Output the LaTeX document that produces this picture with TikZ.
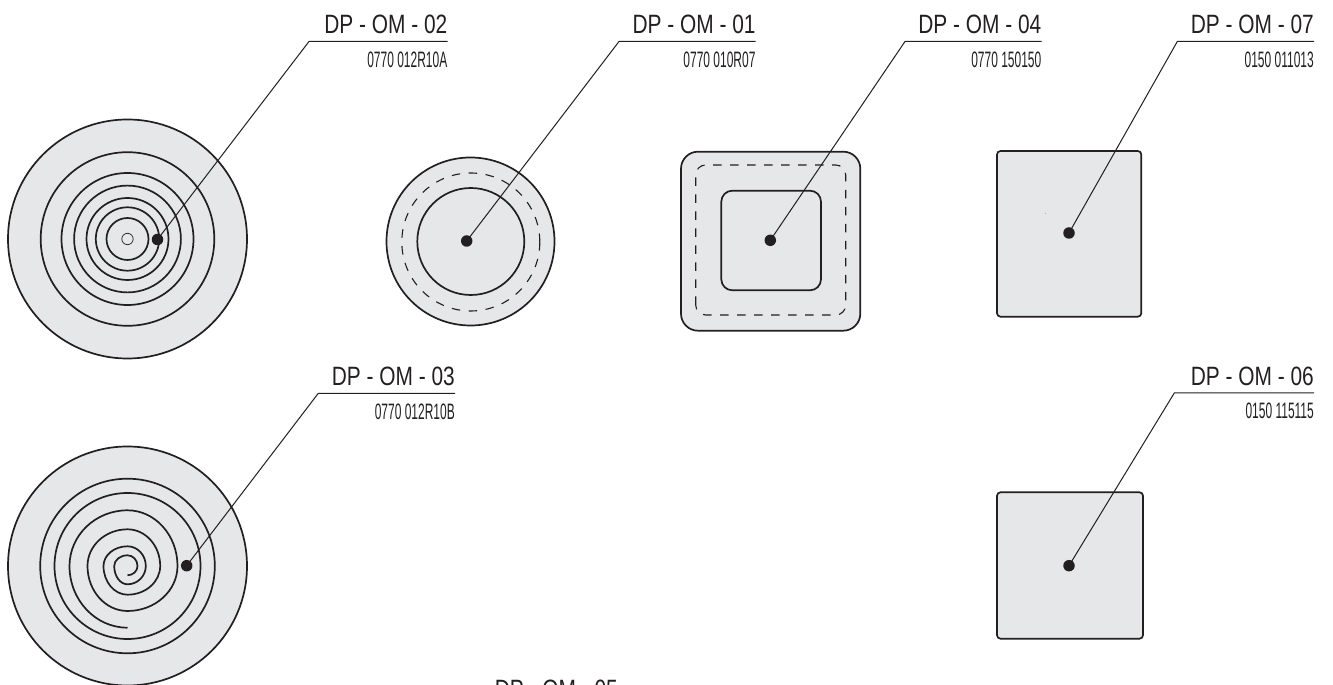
\documentclass[tikz,border=0pt]{standalone}
\usepackage{fontspec}
\newfontfamily\titlefont[FakeStretch=0.788]{Liberation Sans}
\newfontfamily\codefont[FakeStretch=0.538]{Liberation Sans}
\definecolor{padgray}{HTML}{E6E7E8}
\definecolor{ink}{HTML}{231F20}

\begin{document}
\begin{tikzpicture}[x=1pt,y=1pt,
    pad/.style={draw=ink,fill=padgray,line width=1.7pt},
    ring/.style={draw=ink,line width=1.7pt},
    cut/.style={draw=ink,line width=1.1pt,dash pattern=on 8.5pt off 8.5pt},
    dot/.style={circle,fill=ink,inner sep=0pt,minimum size=11.5pt},
    leader/.style={draw=ink,line width=1pt},
    titletext/.style={anchor=base east,inner sep=0pt,text=ink,font=\titlefont\fontsize{26.5}{30}\selectfont},
    codetext/.style={anchor=base east,inner sep=0pt,text=ink,font=\codefont\fontsize{22.3}{26}\selectfont}]
    \useasboundingbox (0,0) rectangle (1333,685);
    \clip (0,0) rectangle (1333,685);

    \draw[pad] (127.5,446) circle[radius=119.5];
    \foreach \r in {21,31.7,41,53.4,66,86.8}
        \draw[ring] (127.5,446) circle[radius=\r];
    \draw[draw=ink,line width=0.7pt] (127.5,446) circle[radius=5.7];

    \draw[pad] (470.5,443.5) circle[radius=84];
    \draw[ring] (470.8,443.5) circle[radius=53.5];
    \draw[cut] (470.8,443) circle[radius=69];

    \draw[pad,rounded corners=17pt] (681,354.3) rectangle (860.3,533.3);
    \draw[cut,rounded corners=10pt] (695.7,370) rectangle (845.7,520);
    \draw[ring,rounded corners=11pt] (721.3,394.7) rectangle (821,494.3);

    \draw[pad,rounded corners=3.5pt] (997,368.3) rectangle (1141.3,534);
    \fill[ink!50] (1045.3,471.7) circle[radius=0.5];

    \draw[pad] (127.5,119) circle[radius=119.5];
    \draw[ring] (127.5,119) circle[radius=87.3];
    \draw[ring] (127.5,119) circle[radius=73];
    \draw[ring] (127.5,109.7)
        \foreach \a/\rx/\ry in {-90/10/9.3,0/10/10.7,90/13.3/10.7,180/13.3/18.3,
            -90/18.3/18.3,0/18.3/19.7,90/24/19.7,180/24/28.7,
            -90/32.7/28.7,0/32.7/36.7,90/40/36.7,180/40/45,
            -90/50/45,0/50/55.7,90/58/55.7,180/58/61.7}
        { arc[start angle=\a,delta angle=90,x radius=\rx,y radius=\ry] };

    \draw[pad,rounded corners=3.5pt] (997,46.3) rectangle (1143,192.7);

    \node[dot] (dot02) at (157.5,445.5) {};
    \node[dot] (dot01) at (466.7,444) {};
    \node[dot] (dot04) at (770.3,444.7) {};
    \node[dot] (dot07) at (1069,452) {};
    \node[dot] (dot03) at (186.7,119.3) {};
    \node[dot] (dot06) at (1069,119.3) {};

    \coordinate (knee02) at (309,643.5);
    \coordinate (end02) at (447.5,643.5);
    \coordinate (knee01) at (619,643.5);
    \coordinate (end01) at (755.7,643.5);
    \coordinate (knee04) at (905,643.5);
    \coordinate (end04) at (1041.5,643.5);
    \coordinate (knee07) at (1177.3,643.5);
    \coordinate (end07) at (1314,643.5);
    \coordinate (knee03) at (318.3,291.7);
    \coordinate (end03) at (455,291.7);
    \coordinate (knee06) at (1174.3,292);
    \coordinate (end06) at (1314,292);

    \draw[leader] (dot02.center) -- (knee02) -- (end02);
    \draw[leader] (dot01.center) -- (knee01) -- (end01);
    \draw[leader] (dot04.center) -- (knee04) -- (end04);
    \draw[leader] (dot07.center) -- (knee07) -- (end07);
    \draw[leader] (dot03.center) -- (knee03) -- (end03);
    \draw[leader] (dot06.center) -- (knee06) -- (end06);

    \node[titletext] (title02) at ([yshift=7.5pt]end02) {DP - OM - 02};
    \node[codetext] (code02) at ([yshift=-26pt]end02) {0770 012R10A};
    \node[titletext] (title01) at ([yshift=7.5pt]end01) {DP - OM - 01};
    \node[codetext] (code01) at ([yshift=-26pt]end01) {0770 010R07};
    \node[titletext] (title04) at ([yshift=7.5pt]end04) {DP - OM - 04};
    \node[codetext] (code04) at ([yshift=-26pt]end04) {0770 150150};
    \node[titletext] (title07) at ([yshift=7.5pt]end07) {DP - OM - 07};
    \node[codetext] (code07) at ([yshift=-26pt]end07) {0150 011013};
    \node[titletext] (title03) at ([yshift=7.5pt]end03) {DP - OM - 03};
    \node[codetext] (code03) at ([yshift=-26pt]end03) {0770 012R10B};
    \node[titletext] (title06) at ([yshift=7.5pt]end06) {DP - OM - 06};
    \node[codetext] (code06) at ([yshift=-26pt]end06) {0150 115115};
    \node[titletext] (title05) at (618,-14) {DP - OM - 05};
\end{tikzpicture}
\end{document}
